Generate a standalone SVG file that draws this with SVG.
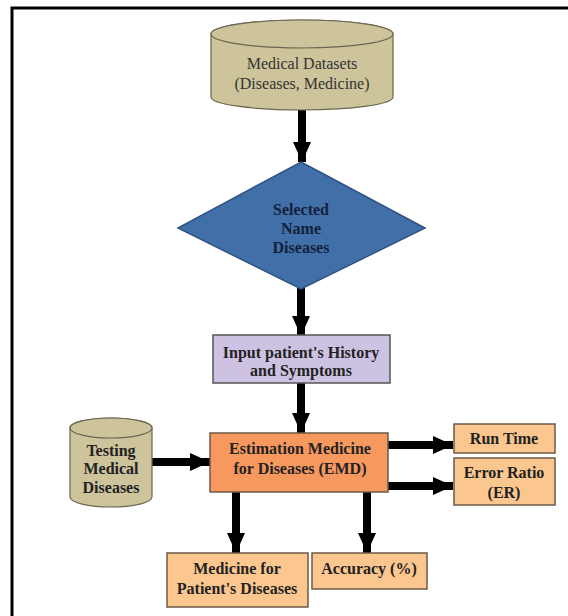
<svg xmlns="http://www.w3.org/2000/svg" width="568" height="616" viewBox="0 0 568 616">
<defs>
<style>
text{font-family:"Liberation Serif","Times New Roman",serif;text-anchor:middle;fill:#222;}
.b{font-weight:bold;font-size:16px;}
.n{font-size:16px;fill:#333;}
.cyl{fill:#cdc49c;stroke:#6b6650;stroke-width:1.2;}
.box{stroke:#6e5a4a;stroke-width:1.5;}
.conn{stroke:#000;stroke-width:8;fill:none;marker-end:url(#ah);}
</style>
<marker id="ah" markerUnits="userSpaceOnUse" markerWidth="20" markerHeight="20" viewBox="0 0 20 20" refX="20" refY="10" orient="auto">
<path d="M0,1 L20,10 L0,19 z" fill="#000"/>
</marker>
</defs>
<rect width="568" height="616" fill="#fff"/>
<path d="M12,616 L12,8 L568,8" fill="none" stroke="#000" stroke-width="3"/>

<g id="connectors">
<line class="conn" x1="302" y1="110" x2="302" y2="162"/>
<line class="conn" x1="301" y1="288" x2="301" y2="336"/>
<line class="conn" x1="301" y1="383" x2="301" y2="433"/>
<line class="conn" x1="152" y1="462" x2="210" y2="462"/>
<line class="conn" x1="388" y1="445" x2="453" y2="445"/>
<line class="conn" x1="388" y1="486" x2="453" y2="486"/>
<line class="conn" x1="236" y1="492" x2="236" y2="553"/>
<line class="conn" x1="367" y1="492" x2="367" y2="553"/>
</g>

<g id="medical-datasets">
<path class="cyl" d="M211,34 L211,97 A91,13 0 0 0 393,97 L393,34 A91,14 0 0 0 211,34 Z"/>
<ellipse class="cyl" cx="302" cy="34" rx="91" ry="14"/>
<text class="n" x="302" y="69">Medical Datasets</text>
<text class="n" x="302" y="89">(Diseases, Medicine)</text>
</g>

<g id="selected-name-diseases">
<polygon points="301,162 425,228 301,289 178,228" fill="#4170a8" stroke="#2f5384" stroke-width="1.5"/>
<text class="b" x="301" y="215" style="fill:#14213a">Selected</text>
<text class="b" x="301" y="234" style="fill:#14213a">Name</text>
<text class="b" x="301" y="253" style="fill:#14213a">Diseases</text>
</g>

<g id="input-history">
<rect class="box" x="213" y="335" width="177" height="48" fill="#cdc2e2" style="stroke:#555"/>
<text class="b" x="301" y="358">Input patient's History</text>
<text class="b" x="301" y="376">and Symptoms</text>
</g>

<g id="testing-medical-diseases">
<path class="cyl" d="M70,428 L70,497 A41,10 0 0 0 152,497 L152,428 A41,10 0 0 0 70,428 Z"/>
<ellipse class="cyl" cx="111" cy="428" rx="41" ry="10"/>
<text class="b" x="111" y="456">Testing</text>
<text class="b" x="111" y="474">Medical</text>
<text class="b" x="111" y="493">Diseases</text>
</g>

<g id="emd">
<rect class="box" x="210" y="433" width="178" height="59" fill="#f7985f"/>
<text class="b" x="300" y="454">Estimation Medicine</text>
<text class="b" x="300" y="474">for Diseases (EMD)</text>
</g>

<g id="run-time">
<rect class="box" x="454" y="424" width="101" height="29" fill="#fbc78f"/>
<text class="b" x="504" y="444">Run Time</text>
</g>

<g id="error-ratio">
<rect class="box" x="454" y="458" width="101" height="47" fill="#fbc78f"/>
<text class="b" x="504" y="478">Error Ratio</text>
<text class="b" x="504" y="498">(ER)</text>
</g>

<g id="medicine-for-patients">
<rect class="box" x="167" y="553" width="141" height="54" fill="#fbc78f"/>
<text class="b" x="237" y="574">Medicine for</text>
<text class="b" x="237" y="594">Patient's Diseases</text>
</g>

<g id="accuracy">
<rect class="box" x="312" y="553" width="115" height="36" fill="#fbc78f"/>
<text class="b" x="369" y="574">Accuracy (%)</text>
</g>
</svg>
